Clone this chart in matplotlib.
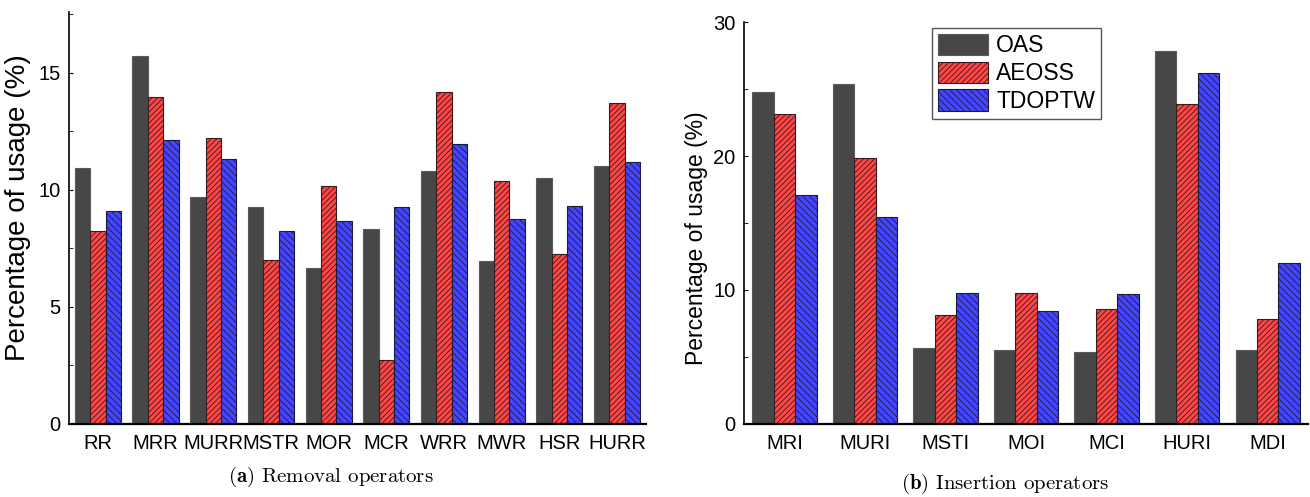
import numpy as np
import matplotlib
matplotlib.use("Agg")
import matplotlib.pyplot as plt
from matplotlib.ticker import MultipleLocator

plt.rcParams['font.family'] = ['Liberation Sans', 'DejaVu Sans']
plt.rcParams['mathtext.fontset'] = 'cm'
plt.rcParams['hatch.linewidth'] = 0.6

series = ['OAS', 'AEOSS', 'TDOPTW']

removal_ops = ['RR', 'MRR', 'MURR', 'MSTR', 'MOR', 'MCR', 'WRR', 'MWR', 'HSR', 'HURR']
removal_oas = [10.95, 15.7, 9.7, 9.25, 6.65, 8.35, 10.8, 6.98, 10.5, 11.0]
removal_aeoss = [8.25, 13.95, 12.2, 7.0, 10.15, 2.74, 14.2, 10.4, 7.25, 13.7]
removal_tdoptw = [9.1, 12.15, 11.3, 8.25, 8.66, 9.27, 11.95, 8.75, 9.32, 11.2]

insertion_ops = ['MRI', 'MURI', 'MSTI', 'MOI', 'MCI', 'HURI', 'MDI']
insertion_oas = [24.8, 25.4, 5.7, 5.5, 5.4, 27.8, 5.55]
insertion_aeoss = [23.15, 19.85, 8.15, 9.8, 8.6, 23.9, 7.85]
insertion_tdoptw = [17.1, 15.45, 9.75, 8.4, 9.7, 26.2, 12.0]

face_colors = ['#474747', '#ff4545', '#4545ff']
edge_colors = ['#5a5a5a', '#3a1a1a', '#1a1a3a']
hatches = ['', '//////', '\\\\\\\\\\']


def draw_group(ax, labels, values, ymax, ystep, label_size):
    x = np.arange(len(labels))
    w = 0.8 / 3
    for i, vals in enumerate(values):
        ax.bar(x + (i - 1) * w, vals, w, color=face_colors[i],
               edgecolor=edge_colors[i], hatch=hatches[i], linewidth=0.8,
               label=series[i])
    ax.set_xlim(-0.5, len(labels) - 0.5)
    ax.set_ylim(0, ymax)
    ax.set_xticks(x)
    ax.set_xticklabels(labels, fontsize=14.5)
    ax.yaxis.set_major_locator(MultipleLocator(ystep))
    ax.yaxis.set_minor_locator(MultipleLocator(ystep / 2))
    ax.tick_params(axis='y', which='both', direction='in', length=3,
                   labelsize=14.5, pad=6)
    ax.tick_params(axis='x', length=0, pad=7)
    ax.spines['top'].set_visible(False)
    ax.spines['right'].set_visible(False)
    ax.spines['left'].set_linewidth(1.2)
    ax.spines['bottom'].set_linewidth(1.6)
    ax.set_ylabel('Percentage of usage (%)', fontsize=label_size)


fig = plt.figure(figsize=(13.1, 4.97), dpi=100)
ax1 = fig.add_axes([0.0527, 0.1469, 0.4404, 0.8290])
ax2 = fig.add_axes([0.568, 0.1469, 0.4305, 0.8088])

draw_group(ax1, removal_ops, [removal_oas, removal_aeoss, removal_tdoptw], 17.6, 5, 20)
ax1.yaxis.set_label_coords(-0.066, 0.524)
draw_group(ax2, insertion_ops, [insertion_oas, insertion_aeoss, insertion_tdoptw], 30, 10, 16.5)
ax2.yaxis.set_label_coords(-0.064, 0.463)

leg = ax2.legend(loc='upper left', bbox_to_anchor=(0.333, 0.985), borderaxespad=0,
                 fontsize=16.5, handlelength=2.2, handleheight=1.05,
                 labelspacing=0.19, handletextpad=0.35, borderpad=0.25,
                 fancybox=False, framealpha=1)
leg.get_frame().set_edgecolor('#555555')
leg.get_frame().set_linewidth(1.0)

fig.text(0.2527, 0.040, r'$\mathbf{(a)}$ Removal operators', ha='center', va='center',
         fontsize=15, family='cmr10')
fig.text(0.767, 0.026, r'$\mathbf{(b)}$ Insertion operators', ha='center', va='center',
         fontsize=15, family='cmr10')

fig.savefig('out.png', dpi=100)
